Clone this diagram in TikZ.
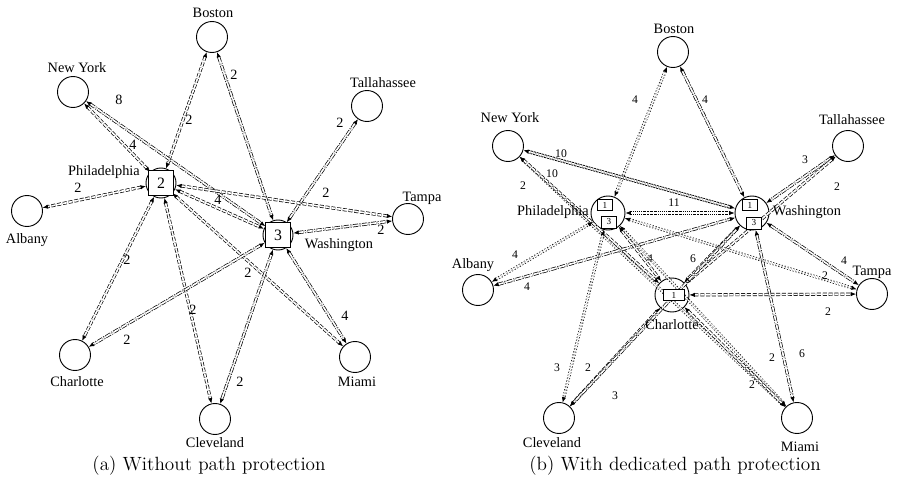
\documentclass[tikz,border=0pt]{standalone}
\usepackage{fontspec}
\newfontfamily\cityfont{Liberation Serif}
\usetikzlibrary{arrows.meta}

\tikzset{
  city/.style={circle, draw, line width=0.55pt, minimum size=18.6pt, inner sep=0pt},
  hub/.style={circle, draw, line width=0.55pt, minimum size=18pt, inner sep=0pt},
  rhub/.style={circle, draw, line width=0.55pt, minimum size=20.4pt, inner sep=0pt},
  hubbox/.style={draw, fill=white, line width=0.55pt, minimum size=15pt, inner sep=0pt,
    font=\cityfont\fontsize{9.5}{9.5}\selectfont},
  tinybox/.style={draw, fill=white, line width=0.45pt, minimum width=9pt, minimum height=6.6pt,
    inner sep=0pt, font=\cityfont\fontsize{5.5}{5.5}\selectfont},
  cityname/.style={font=\cityfont\fontsize{8.6}{9}\selectfont, inner sep=1pt},
  wt/.style={font=\cityfont\fontsize{8.5}{9}\selectfont, inner sep=0pt},
  wtb/.style={font=\cityfont\fontsize{7}{8}\selectfont, inner sep=0pt},
  lnk/.style={double distance=1pt, line width=0.42pt,
    {Latex[length=3.2pt,width=2.6pt]}-{Latex[length=3.2pt,width=2.6pt]}},
  dsh/.style={lnk, dash pattern=on 2.4pt off 1.1pt},
  dd/.style={lnk, dash pattern=on 3.2pt off 0.8pt on 0.7pt off 0.8pt},
  dtt/.style={lnk, dash pattern=on 0.7pt off 1.1pt},
  hvy/.style={lnk, line width=0.55pt, dash pattern=on 1.2pt off 0.5pt},
  wav/.style={lnk, dash pattern=on 1pt off 0.5pt on 0.5pt off 0.5pt},
}

\begin{document}
\begin{tikzpicture}[x=0.6pt, y=-0.6pt]
  \useasboundingbox (0,0) rectangle (904,488);

  % ---------- (a) nodes ----------
  \node[city] (bosA) at (212,37) {};
  \node[city] (nyA)  at (73,92)  {};
  \node[city] (talA) at (367,106) {};
  \node[city] (albA) at (27,211) {};
  \node[city] (tpaA) at (408,219) {};
  \node[city] (cltA) at (75,355) {};
  \node[city] (miaA) at (355,357) {};
  \node[city] (cleA) at (215,419) {};
  \node[hub]  (phlA) at (161,183) {};
  \node[hub]  (wasA) at (278,235) {};

  % ---------- (a) links ----------
  \foreach \a/\b/\s/\x/\y/\w in {
      bosA/phlA/dsh/189/120/2, bosA/wasA/dd/234/75/2,
      nyA/wasA/dd/119/100/8,   nyA/phlA/dsh/133/145/4,
      talA/wasA/dd/340/123/2,  phlA/albA/dsh/78/188/2,
      phlA/tpaA/dsh/326/193/2, phlA/wasA/dsh/218/200/4,
      wasA/tpaA/dd/381/230/2,  phlA/cltA/dsh/127/260/2,
      phlA/cleA/dsh/193/310/2, phlA/miaA/dsh/248/273/2,
      wasA/cltA/dd/127/340/2,  wasA/cleA/dd/240/382/2,
      wasA/miaA/dd/345/316/4}{
    \draw[style=\s] (\a) -- (\b);
    \node[wt] (w-\a-\b) at (\x,\y) {\w};
  }
  \node[hubbox] (phlAbox) at (phlA) {2};
  \node[hubbox] (wasAbox) at (wasA) {3};

  % ---------- (a) names ----------
  \node[cityname] (bosAt) at (213,13)  {Boston};
  \node[cityname] (nyAt)  at (77,68)   {New York};
  \node[cityname] (talAt) at (383,83)  {Tallahassee};
  \node[cityname] (phlAt) at (104,172) {Philadelphia};
  \node[cityname] (albAt) at (27,240)  {Albany};
  \node[cityname] (tpaAt) at (422,198) {Tampa};
  \node[cityname] (wasAt) at (339,245) {Washington};
  \node[cityname] (cltAt) at (77,382)  {Charlotte};
  \node[cityname] (miaAt) at (357,382) {Miami};
  \node[cityname] (cleAt) at (215,443) {Cleveland};

  % ---------- (b) nodes ----------
  \node[city] (bosB) at (673,52)  {};
  \node[city] (nyB)  at (508,146) {};
  \node[city] (talB) at (848,146) {};
  \node[city] (albB) at (478,290) {};
  \node[city] (tpaB) at (872,294) {};
  \node[city] (cleB) at (559,418) {};
  \node[city] (miaB) at (797,418) {};
  \node[rhub] (phlB) at (608,213) {};
  \node[rhub] (wasB) at (752,213) {};
  \node[rhub] (cltB) at (672,295) {};

  % ---------- (b) links ----------
  \foreach \a/\b/\s/\x/\y/\w in {
      bosB/phlB/dtt/635/100/4,  bosB/wasB/dd/705/100/4,
      nyB/wasB/hvy/561/154/10,  nyB/miaB/dtt/552/174/10,
      nyB/cltB/dsh/523/186/2,   phlB/wasB/wav/674/203/11,
      talB/wasB/dd/805/160/3,   talB/cltB/dsh/837/187/2,
      albB/phlB/dtt/515/255/4,  albB/wasB/dd/527/287/4,
      phlB/cltB/dsh/650/259/4,  wasB/cltB/dsh/693/259/6,
      wasB/tpaB/dd/844/261/4,   phlB/tpaB/dtt/825/276/2,
      cltB/tpaB/dsh/828/312/2,  phlB/cleB/dtt/557/368/3,
      cltB/cleB/dsh/588/368/2,  wasB/cleB/dd/615/396/3,
      phlB/miaB/dtt/772/358/2,  cltB/miaB/dsh/752/385/2,
      wasB/miaB/dd/802/354/6}{
    \draw[style=\s] (\a) -- (\b);
    \node[wtb] (w-\a-\b) at (\x,\y) {\w};
  }
  \node[tinybox] (phlB1) at (605,205) {1};
  \node[tinybox, minimum height=7.2pt] (phlB3) at (609,222) {3};
  \node[tinybox] (wasB1) at (750,205) {1};
  \node[tinybox, minimum height=7.2pt] (wasB3) at (754,223) {3};
  \node[tinybox, minimum width=13pt] (cltB1) at (674,295) {1};

  % ---------- (b) names ----------
  \node[cityname] (bosBt) at (674,29)  {Boston};
  \node[cityname] (nyBt)  at (510,118) {New York};
  \node[cityname] (talBt) at (852,120) {Tallahassee};
  \node[cityname] (phlBt) at (553,212) {Philadelphia};
  \node[cityname] (wasBt) at (807,212) {Washington};
  \node[cityname] (albBt) at (473,265) {Albany};
  \node[cityname] (tpaBt) at (872,272) {Tampa};
  \node[cityname] (cltBt) at (672,325) {Charlotte};
  \node[cityname] (cleBt) at (552,443) {Cleveland};
  \node[cityname] (miaBt) at (800,447) {Miami};

  % ---------- captions ----------
  \node[font=\fontsize{11.5}{13}\selectfont] (capA) at (209,466) {(a) Without path protection};
  \node[font=\fontsize{11.5}{13}\selectfont] (capB) at (675,466) {(b) With dedicated path protection};
\end{tikzpicture}
\end{document}
